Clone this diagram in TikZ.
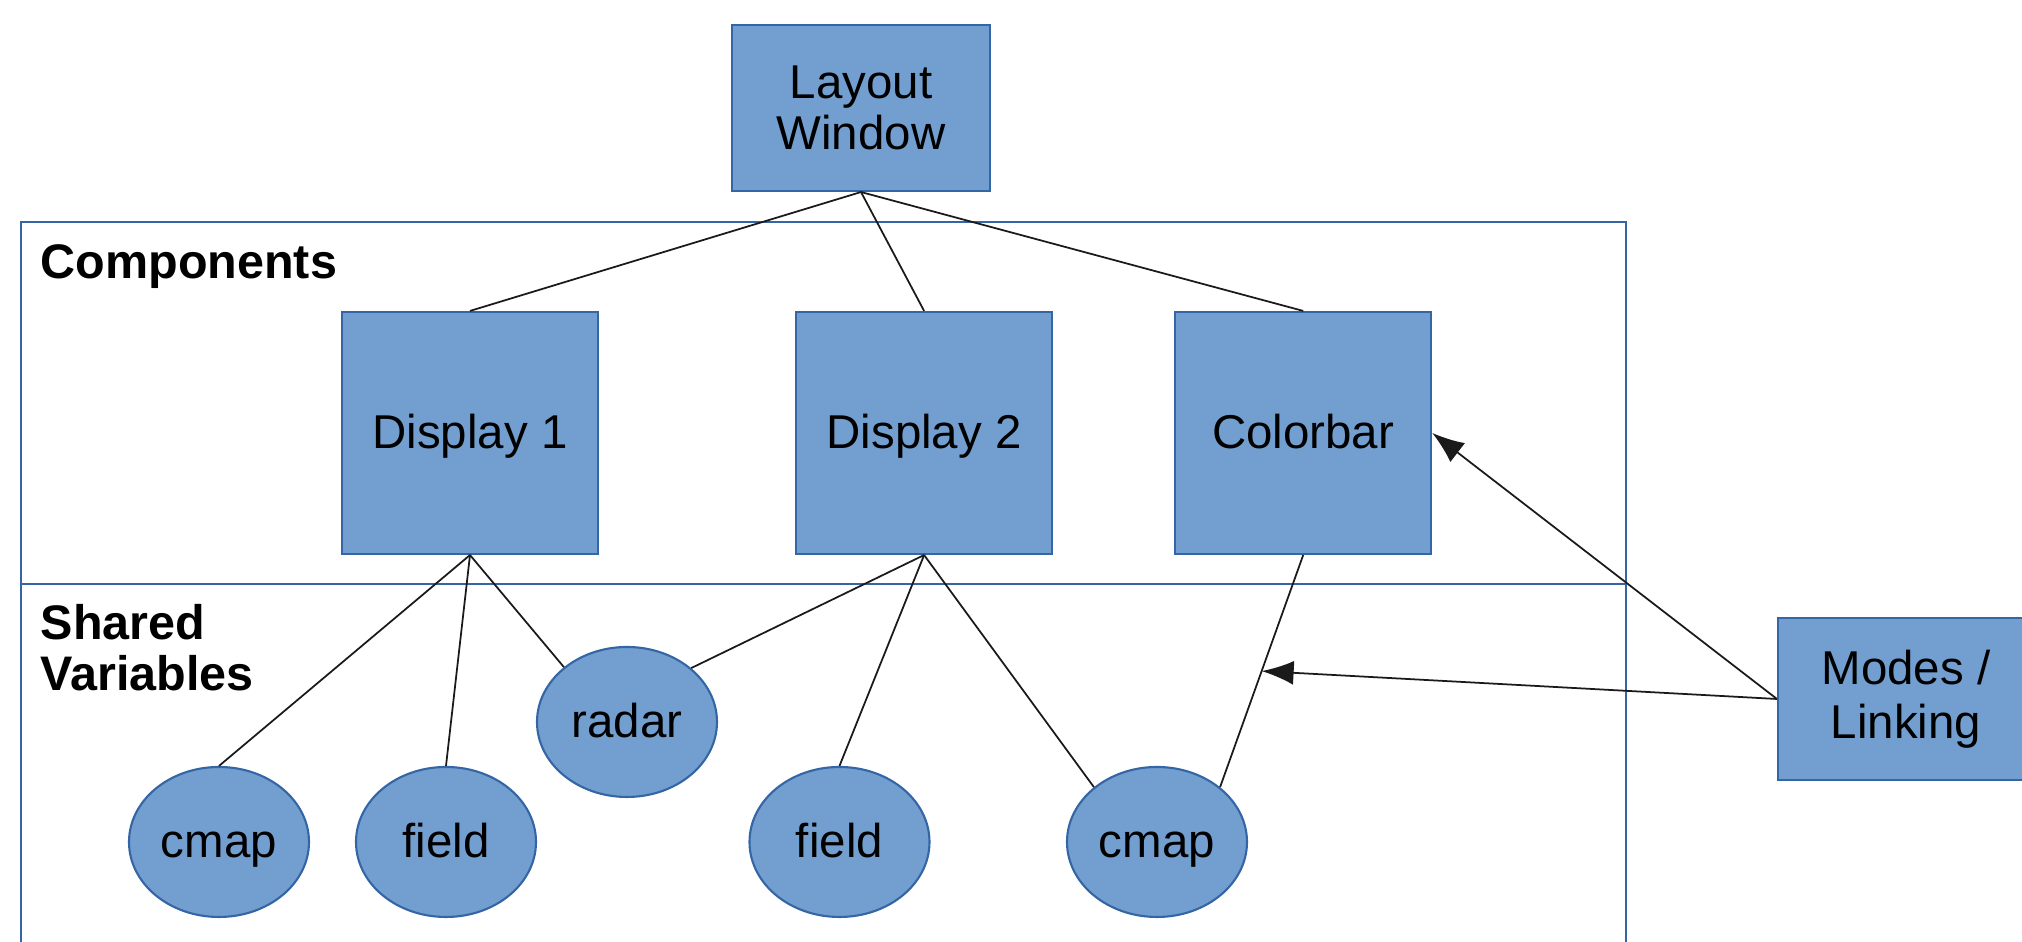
\documentclass[tikz,border=0pt]{standalone}
\usepackage{fontspec}
\setmainfont{Liberation Sans}
\usetikzlibrary{arrows.meta, positioning, shapes.geometric}
\definecolor{lyFill}{HTML}{729FCF}
\definecolor{lyEdge}{HTML}{3465A4}
\definecolor{lyLine}{HTML}{1A1A1A}

\begin{document}
\begin{tikzpicture}[font=\fontsize{13.5}{14.5}\selectfont]
  \tikzset{
    lin/.style={text height=1.0em, text depth=0.12em},
    comp/.style={rectangle, draw=lyEdge, fill=lyFill, line width=0.6pt,
                 minimum width=2.56cm, minimum height=2.42cm, inner sep=0pt},
    var/.style={ellipse, draw=lyEdge, fill=lyFill, line width=0.6pt, lin,
                minimum width=1.80cm, minimum height=1.50cm, inner sep=0pt},
    secao/.style={anchor=west, inner sep=0pt, align=left,
                  font=\fontsize{13.8}{14.5}\selectfont\bfseries},
    con/.style={draw=lyLine, line width=0.5pt},
    seta/.style={con, -{Latex[length=3.2mm, width=2.4mm]}}}
  \useasboundingbox (0,0) rectangle (20.22,9.42);
  % frame with the two sections
  \draw[lyEdge, line width=0.6pt] (0.206,-0.2) |- (16.26,7.20) -- (16.26,-0.2);
  \draw[lyEdge, line width=0.6pt] (0.206,3.58) -- (16.26,3.58);
  \node[secao] (tcomp) at (0.40,6.755) {Components};
  \node[secao] (tvar) at (0.40,2.94) {Shared\\Variables};
  % window and components
  \node[comp, minimum width=2.58cm, minimum height=1.66cm, align=center] (lw) at (8.61,8.34) {Layout\\Window};
  \node[comp, lin] (d1) at (4.70,5.09) {Display 1};
  \node[comp, lin, right=1.96cm of d1] (d2) {Display 2};
  \node[comp, lin, right=1.21cm of d2] (cb) {Colorbar};
  \node[comp, minimum height=1.62cm, align=center] (md) at (19.06,2.43) {Modes /\\[1pt]Linking};
  % shared variables
  \node[var] (cm1) at (2.19,1.00) {cmap};
  \node[var] (fd1) at (4.46,1.00) {field};
  \node[var] (rd) at (6.27,2.20) {radar};
  \node[var] (fd2) at (8.395,1.00) {field};
  \node[var] (cm2) at (11.57,1.00) {cmap};
  % links
  \foreach \d in {d1,d2,cb} \draw[con] (lw.south) -- (\d.north);
  \foreach \v in {cm1.north, fd1.north, rd.139} \draw[con] (d1.south) -- (\v);
  \foreach \v in {rd.40, fd2.north, cm2.139} \draw[con] (d2.south) -- (\v);
  \draw[con] (cb.south) -- coordinate[pos=.5] (cbm) (cm2.41);
  \draw[seta] (md.west) -- (cb.east);
  \draw[seta] (md.west) -- (cbm);
\end{tikzpicture}
\end{document}
